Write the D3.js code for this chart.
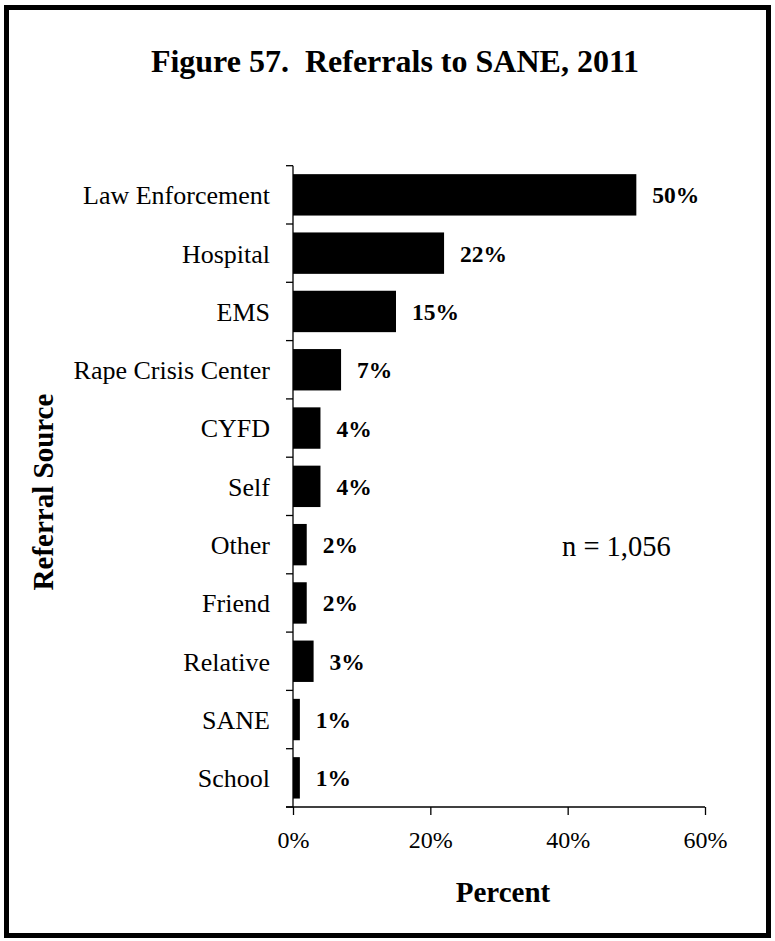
<!DOCTYPE html>
<html>
<head>
<meta charset="utf-8">
<script src="https://cdn.jsdelivr.net/npm/d3@7/dist/d3.min.js"></script>
<style>
  html, body { margin: 0; padding: 0; background: #fff; }
  svg { display: block; }
  text { font-family: "Liberation Serif", "Times New Roman", serif; fill: #000; }
</style>
</head>
<body>
<svg id="chart" width="775" height="941"></svg>
<script>
// Referral sources, top to bottom, with their share of referrals (%)
const categories = ["Law Enforcement", "Hospital", "EMS", "Rape Crisis Center", "CYFD",
                    "Self", "Other", "Friend", "Relative", "SANE", "School"];
const percents = [50, 22, 15, 7, 4, 4, 2, 2, 3, 1, 1];
const xTicks = [0, 20, 40, 60];
const titleText = "Figure 57.  Referrals to SANE, 2011";
const xTitle = "Percent";
const yTitle = "Referral Source";
const noteText = "n = 1,056";

const svg = d3.select("#chart");
const W = 775, H = 941;

// Framed panel
svg.append("rect")
  .attr("x", 6.5).attr("y", 7.5)
  .attr("width", W - 13).attr("height", H - 13)
  .attr("fill", "#fff").attr("stroke", "#000").attr("stroke-width", 5);

const plot = { left: 293, right: 705, top: 165.7, bottom: 807 };

const x = d3.scaleLinear().domain([0, 60]).range([plot.left, plot.right]);
const y = d3.scaleBand().domain(categories)
  .range([plot.top, plot.bottom])
  .paddingInner(0.29).paddingOuter(0.145);

// Title
svg.append("text")
  .attr("x", 395).attr("y", 72)
  .attr("text-anchor", "middle")
  .attr("font-size", 32).attr("font-weight", "bold")
  .style("white-space", "pre")
  .text(titleText);

// Bars
svg.append("g").selectAll("rect")
  .data(categories)
  .join("rect")
  .attr("x", x(0))
  .attr("y", d => y(d))
  .attr("width", (d, i) => x(percents[i]) - x(0))
  .attr("height", y.bandwidth())
  .attr("fill", "#000");

// Value labels
svg.append("g").selectAll("text")
  .data(categories)
  .join("text")
  .attr("x", (d, i) => x(percents[i]) + 16)
  .attr("y", d => y(d) + y.bandwidth() / 2)
  .attr("dy", "0.36em")
  .attr("font-size", 23.5).attr("font-weight", "bold")
  .text((d, i) => percents[i] + "%");

// Y axis: line, boundary ticks between categories, labels
const step = y.step();
const yAxis = svg.append("g");
yAxis.append("line")
  .attr("x1", plot.left).attr("x2", plot.left)
  .attr("y1", plot.top).attr("y2", plot.bottom)
  .attr("stroke", "#000").attr("stroke-width", 1.3);
const boundaries = d3.range(categories.length + 1).map(i => plot.top + i * step);
yAxis.selectAll("line.tick")
  .data(boundaries)
  .join("line")
  .attr("class", "tick")
  .attr("x1", plot.left - 7).attr("x2", plot.left)
  .attr("y1", d => d).attr("y2", d => d)
  .attr("stroke", "#000").attr("stroke-width", 1.3);
yAxis.selectAll("text")
  .data(categories)
  .join("text")
  .attr("x", plot.left - 23)
  .attr("y", d => y(d) + y.bandwidth() / 2)
  .attr("dy", "0.36em")
  .attr("text-anchor", "end")
  .attr("font-size", 26)
  .text(d => d);

// X axis
const xAxis = d3.axisBottom(x)
  .tickValues(xTicks)
  .tickFormat(d => d + "%")
  .tickSize(8)
  .tickSizeOuter(0);
const gx = svg.append("g")
  .attr("transform", `translate(0,${plot.bottom})`)
  .call(xAxis);
gx.select(".domain").remove();
gx.append("line")
  .attr("x1", plot.left - 7).attr("x2", plot.right)
  .attr("y1", 0).attr("y2", 0)
  .attr("stroke", "#000").attr("stroke-width", 1.3);
gx.selectAll(".tick line").attr("stroke", "#000").attr("stroke-width", 1.3);
gx.selectAll(".tick text")
  .attr("font-family", "Liberation Serif, Times New Roman, serif")
  .attr("font-size", 24)
  .attr("fill", "#000")
  .attr("y", 41).attr("dy", 0);

// Axis titles
svg.append("text")
  .attr("x", 503).attr("y", 902)
  .attr("text-anchor", "middle")
  .attr("font-size", 29).attr("font-weight", "bold")
  .text(xTitle);

svg.append("text")
  .attr("transform", "translate(53,492) rotate(-90)")
  .attr("text-anchor", "middle")
  .attr("font-size", 29).attr("font-weight", "bold")
  .text(yTitle);

// Sample size note
svg.append("text")
  .attr("x", 562).attr("y", 556)
  .attr("font-size", 28.5)
  .text(noteText);
</script>
</body>
</html>
